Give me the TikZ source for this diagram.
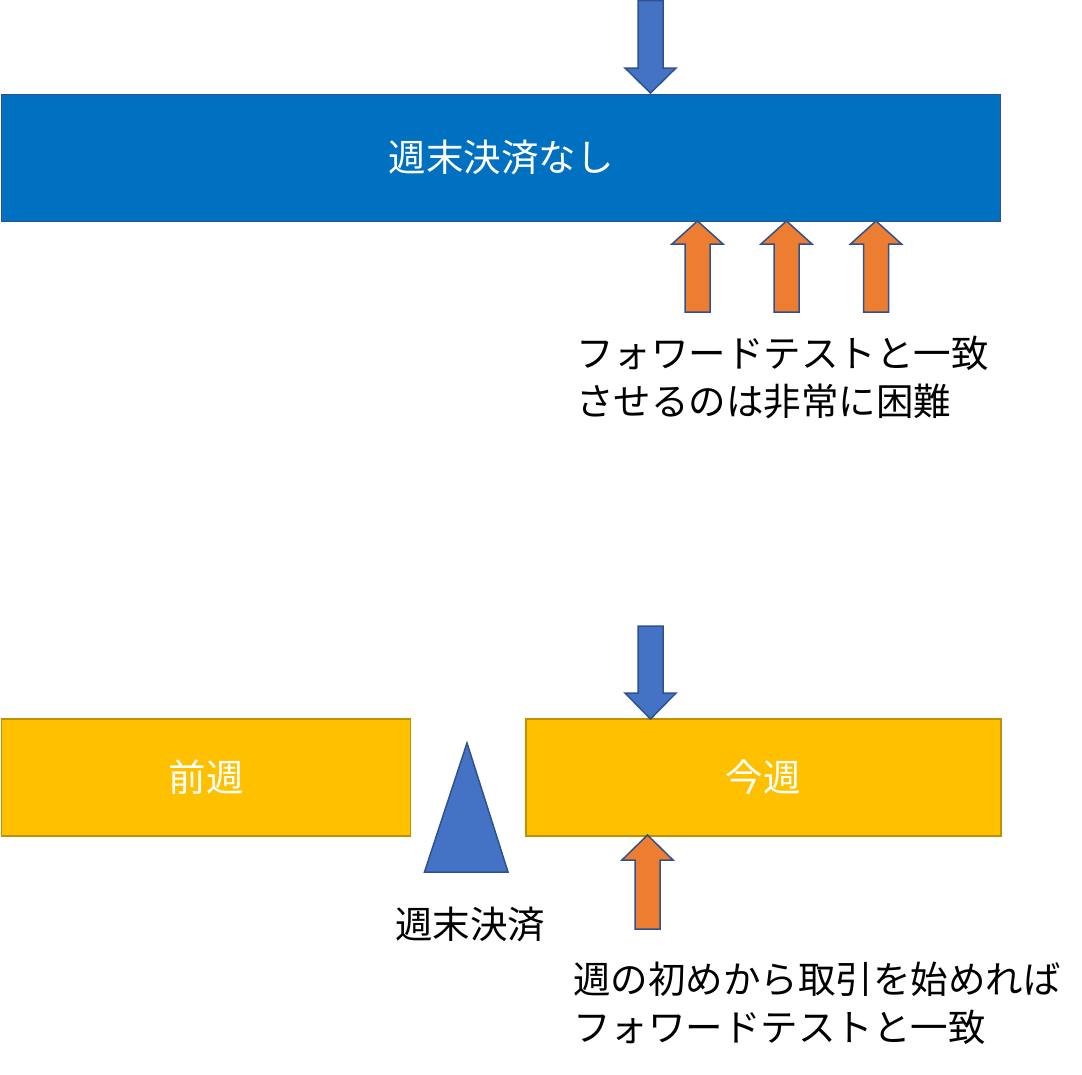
\documentclass[tikz,border=0pt]{standalone}
\usepackage{fontspec}
\setmainfont{Noto Sans CJK JP}
\definecolor{barblue}{HTML}{0070C0}
\definecolor{edgeblue}{HTML}{2F528F}
\definecolor{arrblue}{HTML}{4472C4}
\definecolor{arrorange}{HTML}{ED7D31}
\definecolor{boxyellow}{HTML}{FFC000}
\definecolor{edgeyellow}{HTML}{BF9000}
\tikzset{
  bigfont/.style={font=\fontsize{37.5}{48}\selectfont},
  bluebar/.style={draw=edgeblue, fill=barblue, line width=1.5pt, inner sep=0pt, text=white, bigfont},
  yellowbox/.style={draw=edgeyellow, fill=boxyellow, line width=1.5pt, inner sep=0pt, text=white, bigfont},
  bluearr/.style={draw=edgeblue, fill=arrblue, line width=1.5pt, line join=miter},
  orangearr/.style={draw=edgeblue, fill=arrorange, line width=1.5pt, line join=miter},
  label/.style={bigfont, text=black, inner sep=0pt, align=left},
}
% #1 style, #2 center x, #3 tail y, #4 head-base y, #5 tip y
\newcommand\BlkArrow[5]{%
  \path[#1] (#2-12.5,#3) -- (#2+12.5,#3) -- (#2+12.5,#4) -- (#2+25.5,#4) -- (#2,#5)
    -- (#2-25.5,#4) -- (#2-12.5,#4) -- cycle;}
\begin{document}
\begin{tikzpicture}[x=1pt,y=-1pt]
\useasboundingbox[fill=white] (0,0) rectangle (1082,1074);
% top section
\node[bluebar, minimum width=999pt, minimum height=127pt, anchor=north west] (bar) at (0.75,93.5) {週末決済なし};
\BlkArrow{bluearr}{650.5}{0.5}{68}{93}
\BlkArrow{orangearr}{697.5}{312}{244}{221}
\BlkArrow{orangearr}{786.5}{312}{244}{221}
\BlkArrow{orangearr}{876}{312}{244}{221}
\node[label, anchor=west] (note1) at (576,377) {フォワードテストと一致\\させるのは非常に困難};
% bottom section
\node[yellowbox, minimum width=409pt, minimum height=117pt, anchor=north west] (prev) at (0.75,718) {前週};
\node[yellowbox, minimum width=475pt, minimum height=117pt, anchor=north west] (curr) at (525,718) {今週};
\BlkArrow{bluearr}{650.5}{626}{693}{719}
\BlkArrow{orangearr}{647.5}{929}{860}{835}
\path[bluearr] (424.5,872) -- (467,743) -- (508,872) -- cycle;
\node[label, anchor=center] (wk) at (470,924) {週末決済};
\node[label, anchor=west] (note2) at (573,1003) {週の初めから取引を始めれば\\フォワードテストと一致};
\end{tikzpicture}
\end{document}
